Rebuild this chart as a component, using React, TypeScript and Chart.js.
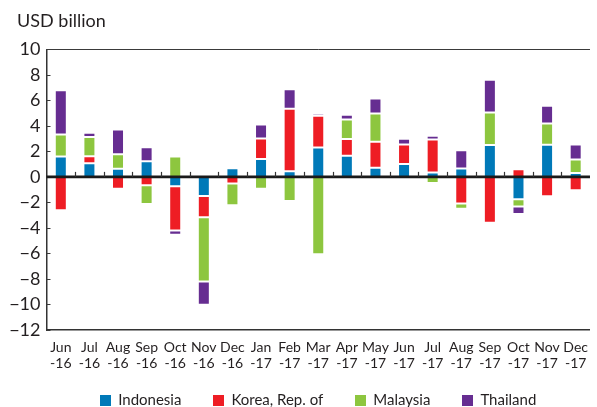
import React, { useEffect, useRef } from "react";
import { Chart, registerables } from "chart.js";

Chart.register(...registerables);

const months = ["Jun", "Jul", "Aug", "Sep", "Oct", "Nov", "Dec", "Jan", "Feb", "Mar", "Apr", "May", "Jun", "Jul", "Aug", "Sep", "Oct", "Nov", "Dec"];
const years = ["-16", "-16", "-16", "-16", "-16", "-16", "-16", "-17", "-17", "-17", "-17", "-17", "-17", "-17", "-17", "-17", "-17", "-17", "-17"];

const indonesia = [1.6, 1.07, 0.63, 1.23, -0.73, -1.49, 0.68, 1.41, 0.45, 2.3, 1.65, 0.71, 1.02, 0.34, 0.65, 2.49, -1.75, 2.51, 0.31];
const korea = [-2.62, 0.55, -0.92, -0.65, -3.48, -1.68, -0.52, 1.6, 4.89, 2.49, 1.31, 2.04, 1.52, 2.59, -2.09, -3.59, 0.6, -1.52, -1.05];
const malaysia = [1.72, 1.5, 1.15, -1.47, 1.6, -5.02, -1.7, -0.92, -1.88, -6.07, 1.54, 2.22, -0.16, -0.47, -0.4, 2.56, -0.58, 1.68, 1.05];
const thailand = [3.48, 0.34, 1.94, 1.1, -0.32, -1.84, -0.06, 1.1, 1.52, 0.18, 0.37, 1.18, 0.44, 0.29, 1.44, 2.57, -0.58, 1.39, 1.18];

const seriesNames = ["Indonesia", "Korea, Rep. of", "Malaysia", "Thailand"];
const seriesColors = ["#0079B8", "#EE1D24", "#8DC63F", "#662D91"];

const titleText = "USD billion";
const yMin = -12;
const yMax = 10;
const yStep = 2;

const FONT = "Lato, 'Open Sans', sans-serif";
const TEXT = "#231F20";

const decorPlugin = {
  id: "decor",
  afterDatasetsDraw(chart: any) {
    const { ctx, chartArea, scales } = chart;
    const x = scales.x;
    const y = scales.y;
    const y0 = y.getPixelForValue(0);
    ctx.save();
    ctx.strokeStyle = "#3a3a3a";
    ctx.lineWidth = 1;
    ctx.beginPath();
    ctx.moveTo(chartArea.left, Math.round(chartArea.top) + 0.5);
    ctx.lineTo(chartArea.right, Math.round(chartArea.top) + 0.5);
    ctx.stroke();
    y.ticks.forEach((t: any) => {
      const py = Math.round(y.getPixelForValue(t.value)) + 0.5;
      ctx.beginPath();
      ctx.moveTo(chartArea.left, py);
      ctx.lineTo(chartArea.left + 4, py);
      ctx.stroke();
    });
    ctx.strokeStyle = "#1a1a1a";
    ctx.lineWidth = 2.6;
    ctx.beginPath();
    ctx.moveTo(chartArea.left, y0);
    ctx.lineTo(chartArea.right, y0);
    ctx.stroke();
    ctx.strokeStyle = "#333";
    ctx.lineWidth = 1.2;
    const n = months.length;
    for (let i = 1; i < n; i++) {
      const px = Math.round((x.getPixelForValue(i - 1) + x.getPixelForValue(i)) / 2) + 0.5;
      ctx.beginPath();
      ctx.moveTo(px, y0);
      ctx.lineTo(px, y0 - 5);
      ctx.stroke();
    }
    ctx.restore();
  },
  afterDraw(chart: any) {
    const { ctx, chartArea } = chart;
    ctx.save();
    ctx.fillStyle = TEXT;
    ctx.font = `18px ${FONT}`;
    ctx.textBaseline = "middle";
    ctx.textAlign = "left";
    ctx.fillText(titleText, chartArea.left - 29.5, 21.5);
    ctx.font = `15px ${FONT}`;
    const box = 11;
    const gap = 7;
    const spacing = 32;
    const widths = seriesNames.map((s) => box + gap + ctx.measureText(s).width);
    const total = widths.reduce((a, b) => a + b, 0) + spacing * (seriesNames.length - 1);
    let cx = (chartArea.left + chartArea.right) / 2 - total / 2;
    const cy = 400.5;
    seriesNames.forEach((s, i) => {
      ctx.fillStyle = seriesColors[i];
      ctx.fillRect(Math.round(cx), Math.round(cy - box / 2), box, box);
      ctx.fillStyle = TEXT;
      ctx.fillText(s, cx + box + gap, cy);
      cx += widths[i] + spacing;
    });
    ctx.restore();
  },
};

export default function App() {
  const ref = useRef<HTMLCanvasElement | null>(null);

  useEffect(() => {
    if (!ref.current) return;
    const labels = months.map((m, i) => [m, years[i]]);
    const values = [indonesia, korea, malaysia, thailand];
    const chart = new Chart(ref.current, {
      type: "bar",
      data: {
        labels,
        datasets: values.map((d, i) => ({
          label: seriesNames[i],
          data: d,
          backgroundColor: seriesColors[i],
          borderColor: "rgba(255,255,255,0.22)",
          borderWidth: 1,
          borderSkipped: false,
          barPercentage: 0.42,
          categoryPercentage: 1,
        })),
      },
      options: {
        animation: false,
        responsive: false,
        layout: { padding: { left: 0, right: 0, top: 49.3, bottom: 33 } },
        plugins: {
          title: { display: false },
          legend: { display: false },
          tooltip: { enabled: false },
        },
        scales: {
          x: {
            stacked: true,
            grid: { display: false, drawTicks: false },
            border: { display: true, color: "#333", width: 1.5 },
            ticks: {
              color: TEXT,
              font: { family: FONT, size: 14, lineHeight: 1.15 },
              maxRotation: 0,
              autoSkip: false,
              padding: 9,
            },
            afterFit: (scale: any) => {
              scale.height = 44;
            },
          },
          y: {
            stacked: true,
            min: yMin,
            max: yMax,
            grid: { display: false, drawTicks: false },
            border: { display: true, color: "#333", width: 1.5 },
            ticks: {
              stepSize: yStep,
              autoSkip: false,
              color: TEXT,
              font: { family: FONT, size: 18 },
              padding: 6,
              callback: (v: any) => (Number(v) < 0 ? "\u2212" + Math.abs(Number(v)) : String(v)),
            },
            afterFit: (scale: any) => {
              scale.width = 46.5;
            },
          },
        },
      },
      plugins: [decorPlugin],
    });
    return () => chart.destroy();
  }, []);

  return (
    <div style={{ position: "fixed", left: 0, top: 0, width: 597, height: 407, background: "#fff" }}>
      <canvas ref={ref} width={597} height={407} />
    </div>
  );
}
